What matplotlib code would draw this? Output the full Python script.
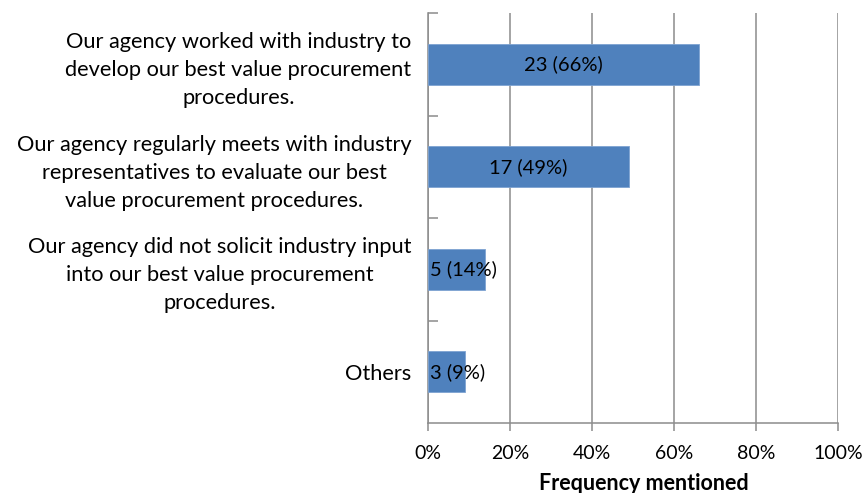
import matplotlib
matplotlib.use("Agg")
import matplotlib.pyplot as plt
from matplotlib.ticker import FuncFormatter

categories = [
    "Our agency worked with industry to\ndevelop our best value procurement\nprocedures.",
    "Our agency regularly meets with industry\nrepresentatives to evaluate our best\nvalue procurement procedures.",
    "Our agency did not solicit industry input\ninto our best value procurement\nprocedures.",
    "Others",
]
counts = [23, 17, 5, 3]
percents = [66, 49, 14, 9]
xticks = [0, 20, 40, 60, 80, 100]

plt.rcParams['font.family'] = ['Lato', 'DejaVu Sans']

fig = plt.figure(figsize=(8.65, 4.93), dpi=100)
ax = fig.add_axes([428/865, 1 - 423/493, 410/865, 410/493])

bar_color = "#4F81BD"
ypos = list(range(len(categories)))
ax.barh(ypos, percents, height=0.4, color=bar_color, edgecolor="#7EA3D2", linewidth=0.6, zorder=3)
ax.set_ylim(len(categories) - 0.5, -0.5)
ax.set_xlim(0, 100)

for y, c, p in zip(ypos, counts, percents):
    label = f"{c} ({p}%)"
    if p > 25:
        ax.text(p / 2, y, label, ha="center", va="center", fontsize=14.5, color="black", zorder=4)
    else:
        ax.text(0.6, y, label, ha="left", va="center", fontsize=14.5, color="black", zorder=4)

ax.set_xticks(xticks)
ax.xaxis.set_major_formatter(FuncFormatter(lambda v, _: f"{int(v)}%"))
ax.grid(axis="x", color="#8c8c8c", linewidth=1.1, zorder=0)

ax.set_yticks([y + 0.5 for y in ypos[:-1]] + [-0.5], minor=False)
ax.set_yticklabels([])
ax.set_yticks(ypos, minor=True)
ax.set_yticklabels(categories, minor=True, fontsize=15.7, multialignment="center", linespacing=1.5)
ax.tick_params(axis="y", which="minor", length=0, pad=12)
ax.tick_params(axis="y", which="major", direction="in", length=7, color="#8c8c8c", width=1.1)
ax.tick_params(axis="x", direction="out", length=6, color="#8c8c8c", width=1.1, labelsize=14, pad=10)

for s in ["top", "right"]:
    ax.spines[s].set_visible(False)
for s in ["left", "bottom"]:
    ax.spines[s].set_color("#8c8c8c")
    ax.spines[s].set_linewidth(1.1)

ax.set_xlabel("Frequency mentioned", fontsize=15.5, fontweight="bold")
ax.xaxis.set_label_coords(0.527, -0.122)

fig.savefig("out.png", dpi=100)
